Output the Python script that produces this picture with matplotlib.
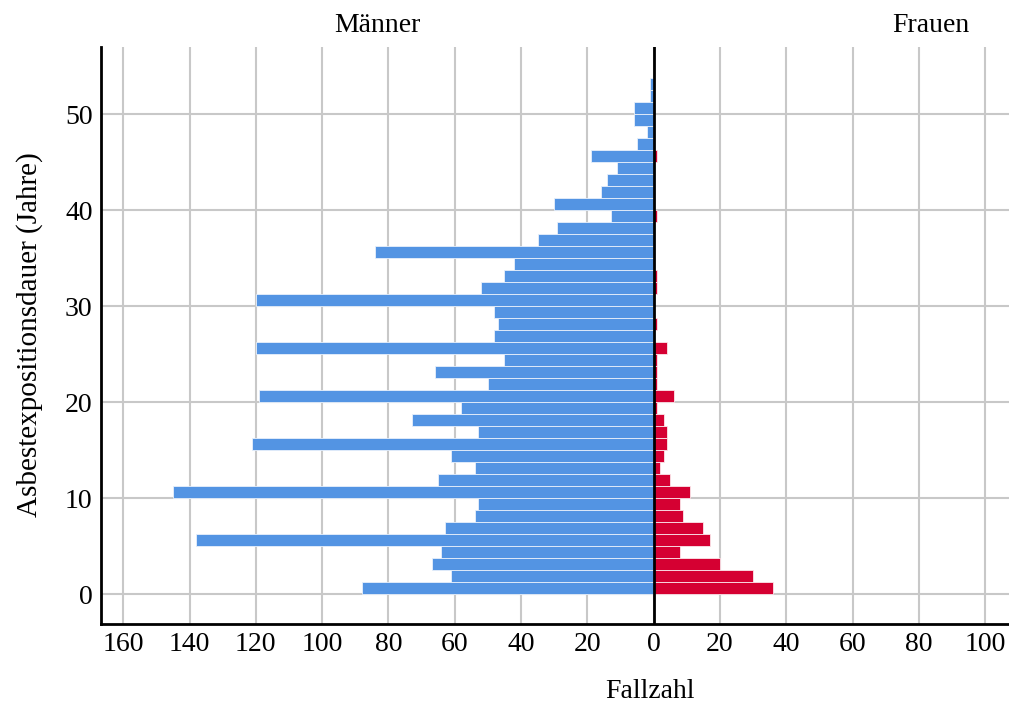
import numpy as np
import matplotlib.pyplot as plt

# Klassen der Expositionsdauer (Breite 1.25 Jahre), Index 0 = unterste Klasse
bin_width = 1.25
maenner = [88, 61, 67, 64, 138, 63, 54, 53, 145, 65,
           54, 61, 121, 53, 73, 58, 119, 50, 66, 45,
           120, 48, 47, 48, 120, 52, 45, 42, 84, 35,
           29, 13, 30, 16, 14, 11, 19, 5, 2, 6,
           6, 1, 1]
frauen = [36, 30, 20, 8, 17, 15, 9, 8, 11, 5,
          2, 3, 4, 4, 3, 1, 6, 1, 1, 1,
          4, 0, 1, 0, 0, 1, 1, 0, 0, 0,
          0, 1, 0, 0, 0, 0, 1, 0, 0, 0,
          0, 0, 0]
x_ticks = [-160, -140, -120, -100, -80, -60, -40, -20, 0, 20, 40, 60, 80, 100]
y_ticks = [0, 10, 20, 30, 40, 50]

plt.rcParams['font.family'] = ['Liberation Serif', 'DejaVu Serif']

W, H = 1009, 705
fig = plt.figure(figsize=(W / 100, H / 100), dpi=100)
ax = fig.add_axes([101 / W, 1 - 624 / H, (W - 101) / W, (624 - 47) / H])

starts = np.arange(len(maenner)) * bin_width
blue = '#5394E3'
red = '#D50032'
ax.barh(starts, -np.array(maenner), height=bin_width, align='edge',
        color=blue, edgecolor='#e8f0fb', linewidth=0.6, zorder=2)
ax.barh(starts, frauen, height=bin_width, align='edge',
        color=red, edgecolor='#fbe6ea', linewidth=0.6, zorder=2)

ax.axvline(0, color='black', linewidth=2, zorder=3)

ax.set_xlim(-166.7, 107.2)
ax.set_ylim(-3.1, 57.0)
ax.set_xticks(x_ticks)
ax.set_xticklabels([str(abs(t)) for t in x_ticks])
ax.set_yticks(y_ticks)
ax.grid(True, color='#c8c8c8', linewidth=1.5, zorder=0)
ax.set_axisbelow(True)
ax.tick_params(length=0, labelsize=20)
ax.tick_params(axis='x', pad=6)
ax.tick_params(axis='y', pad=6)

for side in ['top', 'right']:
    ax.spines[side].set_visible(False)
for side in ['left', 'bottom']:
    ax.spines[side].set_linewidth(2)

fig.text(377 / W, 1 - 25 / H, 'Männer', ha='center', va='center', fontsize=20)
fig.text(931 / W, 1 - 25 / H, 'Frauen', ha='center', va='center', fontsize=20)
fig.text(650 / W, 1 - 692 / H, 'Fallzahl', ha='center', va='center', fontsize=20)
fig.text(30 / W, 1 - 335 / H, 'Asbestexpositionsdauer (Jahre)', ha='center',
         va='center', rotation=90, fontsize=21)

fig.savefig('out.png', dpi=100)
